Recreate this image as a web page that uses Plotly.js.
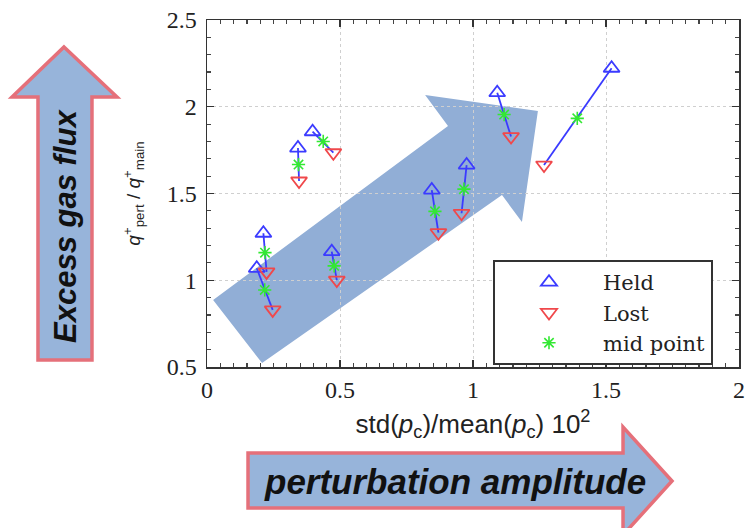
<!DOCTYPE html>
<html>
<head>
<meta charset="utf-8">
<script src="https://cdn.plot.ly/plotly-3.0.1.min.js"></script>
<style>html,body{margin:0;padding:0;background:#fff;}#chart{width:749px;height:528px;}</style>
</head>
<body>
<div id="chart"></div>
<script>
// ---- data ----
const heldX = [0.342, 0.397, 0.212, 0.187, 0.469, 0.845, 0.976, 1.091, 1.521];
const heldY = [1.762, 1.856, 1.271, 1.069, 1.165, 1.520, 1.664, 2.081, 2.222];
const lostX = [0.346, 0.475, 0.224, 0.247, 0.488, 0.870, 0.957, 1.143, 1.267];
const lostY = [1.572, 1.735, 1.048, 0.829, 1.001, 1.274, 1.386, 1.828, 1.664];
const midX  = [0.344, 0.437, 0.218, 0.217, 0.478, 0.857, 0.966, 1.117, 1.392];
const midY  = [1.667, 1.800, 1.159, 0.944, 1.083, 1.397, 1.525, 1.955, 1.933];
const seriesNames = ["Held", "Lost", "mid point"];
const xTickVals = [0, 0.5, 1, 1.5, 2];
const yTickVals = [0.5, 1, 1.5, 2, 2.5];

// ---- layout geometry (decoration) ----
const W = 749, H = 528, ML = 207, MR = 10, MT = 20, MB = 161;
const PW = W - ML - MR, PH = H - MT - MB;
const px = v => (v - ML) / PW;
const py = v => (H - MB - v) / PH;
function pathFromPixels(pts) {
  return 'M' + pts.map(p => px(p[0]).toFixed(4) + ',' + py(p[1]).toFixed(4)).join(' L') + ' Z';
}
// big diagonal arrow, in data units
const diagArrow = [[0.023,0.886],[0.906,1.889],[0.820,2.068],[1.244,1.975],[1.184,1.336],[1.109,1.491],[0.207,0.523]];
const diagPath = 'M' + diagArrow.map(p => p[0] + ',' + p[1]).join(' L') + ' Z';
const upArrowPx = [[64,47],[117,97],[92,97],[92,360],[38,360],[38,97],[12,97]];
const rightArrowPx = [[248,453],[623,453],[623,427],[672,481],[623,535],[623,508],[248,508]];

// connecting segments lost -> held
const segX = [], segY = [];
for (let i = 0; i < heldX.length; i++) {
  segX.push(lostX[i], heldX[i], null);
  segY.push(lostY[i], heldY[i], null);
}

const traces = [
  {x: segX, y: segY, mode: 'lines', line: {color: '#3a3aff', width: 1.8}, showlegend: false, hoverinfo: 'skip'},
  {x: heldX, y: heldY, mode: 'markers', name: seriesNames[0],
   marker: {symbol: 'triangle-up-open', size: 14, color: '#3b3bff', line: {width: 1.8, color: '#3b3bff'}}},
  {x: lostX, y: lostY, mode: 'markers', name: seriesNames[1],
   marker: {symbol: 'triangle-down-open', size: 14, color: '#f0484b', line: {width: 1.8, color: '#f0484b'}}},
  {x: midX, y: midY, mode: 'markers', name: seriesNames[2],
   marker: {symbol: 'asterisk-open', size: 11, color: '#33e833', line: {width: 1.6, color: '#33e833'}}}
];

const axisCommon = {
  showline: true, linecolor: '#333', linewidth: 1.5, mirror: 'allticks',
  ticks: 'inside', ticklen: 7, tickcolor: '#333', tickwidth: 1.2,
  showgrid: true, gridcolor: '#cfcfcf', griddash: 'dot', gridwidth: 1,
  zeroline: false,
  tickfont: {family: 'Liberation Serif', size: 24, color: '#222'}
};

const layout = {
  width: W, height: H,
  margin: {l: ML, r: MR, t: MT, b: MB, pad: 0},
  paper_bgcolor: '#fff', plot_bgcolor: '#fff',
  xaxis: Object.assign({}, axisCommon, {
    range: [0, 2], tickvals: xTickVals, ticklabelstandoff: 1,
    minor: {dtick: 0.05, ticks: 'inside', ticklen: 4, tickcolor: '#444', showgrid: false},
    title: {text: 'std(<i>p</i><sub>c</sub>)/mean(<i>p</i><sub>c</sub>) 10<sup>2</sup>',
            font: {family: 'Liberation Sans', size: 26, color: '#222'}, standoff: 12}
  }),
  yaxis: Object.assign({}, axisCommon, {
    range: [0.5, 2.5], tickvals: yTickVals, ticklabelstandoff: 4,
    minor: {dtick: 0.1, ticks: 'inside', ticklen: 4, tickcolor: '#444', showgrid: false},
    title: {text: '<i>q</i><sup>+</sup><sub>pert</sub> / <i>q</i><sup>+</sup><sub>main</sub>',
            font: {family: 'Liberation Sans', size: 19, color: '#222'}, standoff: 21}
  }),
  legend: {
    x: px(493), y: py(260), xanchor: 'left', yanchor: 'top',
    bordercolor: '#333', borderwidth: 2, bgcolor: '#fff',
    font: {family: 'DejaVu Serif', size: 21, color: '#222'},
    itemwidth: 98, tracegroupgap: 0
  },
  shapes: [
    {type: 'path', xref: 'x', yref: 'y', path: diagPath, fillcolor: '#91aed6', line: {width: 0}, layer: 'below'},
    {type: 'path', xref: 'paper', yref: 'paper', path: pathFromPixels(upArrowPx), fillcolor: '#97b4da', line: {color: '#e5707a', width: 3.5}, layer: 'above'},
    {type: 'path', xref: 'paper', yref: 'paper', path: pathFromPixels(rightArrowPx), fillcolor: '#97b4da', line: {color: '#e5707a', width: 3.5}, layer: 'above'}
  ],
  annotations: [
    {xref: 'paper', yref: 'paper', x: px(65), y: py(226), text: '<b><i>Excess gas flux</i></b>', textangle: -90,
     showarrow: false, font: {family: 'Liberation Sans', size: 31, color: '#111'}, xanchor: 'center', yanchor: 'middle'},
    {xref: 'paper', yref: 'paper', x: px(455), y: py(481), text: '<b><i>perturbation amplitude</i></b>',
     showarrow: false, font: {family: 'Liberation Sans', size: 35, color: '#111'}, xanchor: 'center', yanchor: 'middle'}
  ]
};

Plotly.newPlot('chart', traces, layout, {displayModeBar: false, staticPlot: true});
</script>
</body>
</html>
